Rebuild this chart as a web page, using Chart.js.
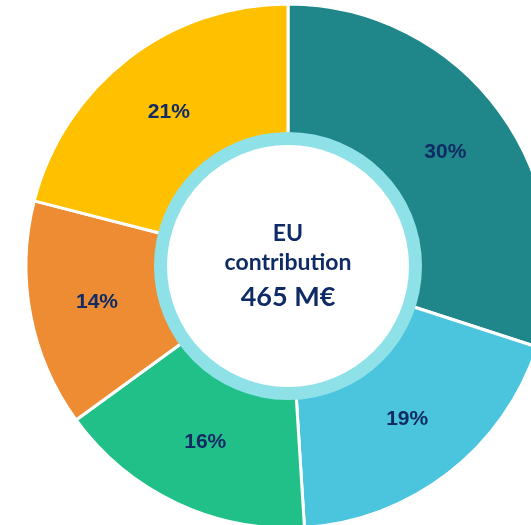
<!DOCTYPE html>
<html>
<head>
<meta charset="utf-8">
<script src="https://cdn.jsdelivr.net/npm/chart.js@4/dist/chart.umd.min.js"></script>
<style>
  html, body { margin: 0; padding: 0; background: #fff; overflow: hidden; width: 531px; height: 525px; }
  #wrap { position: absolute; left: 18px; top: -4px; width: 540px; height: 540px; }
</style>
</head>
<body>
<div id="wrap"><canvas id="donut"></canvas></div>
<script>
// shares of the EU contribution, clockwise from 12 o'clock
const shares = [30, 19, 16, 14, 21];
const shareLabels = ['30%', '19%', '16%', '14%', '21%'];
const centerLines = ['EU', 'contribution', '465 M€'];
const sliceColors = ['#1F8789', '#4BC5DD', '#21C089', '#ED8C33', '#FFC000'];

const navy = '#0F2B66';

const donutExtras = {
    id: 'donutExtras',
    afterDatasetsDraw(chart) {
        const ctx = chart.ctx;
        const arcs = chart.getDatasetMeta(0).data;
        const cx = arcs[0].x, cy = arcs[0].y;

        // light cyan ring + white hole
        ctx.save();
        ctx.beginPath();
        ctx.arc(cx, cy, 134, 0, Math.PI * 2);
        ctx.fillStyle = '#8FE1E8';
        ctx.fill();
        ctx.beginPath();
        ctx.arc(cx, cy, 121, 0, Math.PI * 2);
        ctx.fillStyle = '#ffffff';
        ctx.fill();

        // percentage labels
        ctx.fillStyle = navy;
        ctx.textAlign = 'center';
        ctx.textBaseline = 'middle';
        ctx.font = 'bold 21px "Liberation Sans", Arial, sans-serif';
        arcs.forEach((arc, i) => {
            const p = arc.getCenterPoint();
            ctx.fillText(shareLabels[i], p.x, p.y);
        });

        // centre text
        ctx.font = 'bold 23px Lato, "Open Sans", sans-serif';
        ctx.fillText(centerLines[0], cx, cy - 32);
        ctx.fillText(centerLines[1], cx, cy - 3);
        ctx.font = 'bold 27px Lato, "Open Sans", sans-serif';
        ctx.fillText(centerLines[2], cx, cy + 31);
        ctx.restore();
    }
};

new Chart(document.getElementById('donut').getContext('2d'), {
    type: 'doughnut',
    data: {
        labels: shareLabels,
        datasets: [{
            data: shares,
            backgroundColor: sliceColors,
            borderColor: '#ffffff',
            borderWidth: 3
        }]
    },
    options: {
        responsive: true,
        maintainAspectRatio: false,
        animation: false,
        radius: 262,
        cutout: 130,
        layout: { padding: 0 },
        plugins: {
            legend: { display: false },
            tooltip: { enabled: false }
        }
    },
    plugins: [donutExtras]
});
</script>
</body>
</html>
